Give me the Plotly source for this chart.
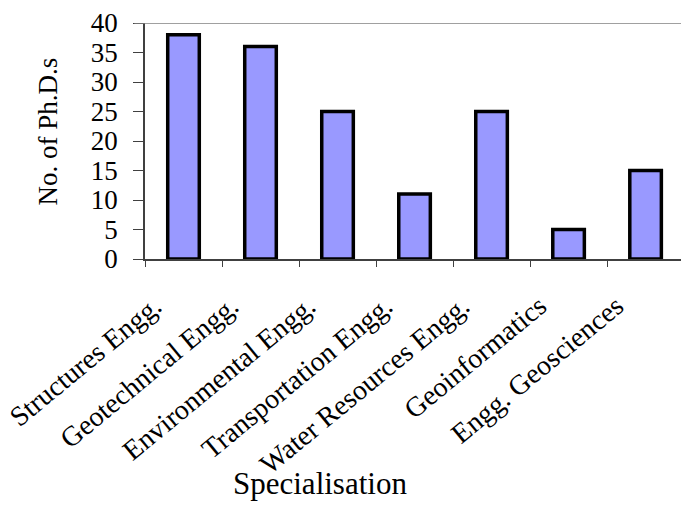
import plotly.graph_objects as go

# Number of Ph.D.s awarded per specialisation
specialisations = [
    "Structures Engg.",
    "Geotechnical Engg.",
    "Environmental Engg.",
    "Transportation Engg.",
    "Water Resources Engg.",
    "Geoinformatics",
    "Engg. Geosciences",
]
phd_counts = [38, 36, 25, 11, 25, 5, 15]
y_ticks = [0, 5, 10, 15, 20, 25, 30, 35, 40]

FONT = "Liberation Serif, Times New Roman, serif"

fig = go.Figure(
    go.Bar(
        x=specialisations,
        y=phd_counts,
        width=0.41,
        marker=dict(color="#9999FF", line=dict(color="#000000", width=3.5)),
    )
)

fig.update_layout(
    width=681,
    height=506,
    margin=dict(l=145, r=0, t=23, b=247),
    paper_bgcolor="white",
    plot_bgcolor="white",
    showlegend=False,
    font=dict(family=FONT, color="black"),
    xaxis=dict(
        range=[-0.5, 6.46],
        tickson="boundaries",
        ticks="outside",
        ticklen=6,
        tickcolor="#404040",
        tickangle=-39.5,
        tickfont=dict(size=28),
        ticklabelshift=-29,
        ticklabelstandoff=18,
        showline=True,
        linecolor="#404040",
        linewidth=1.5,
        showgrid=False,
        zeroline=False,
    ),
    yaxis=dict(
        range=[0, 40],
        tickvals=y_ticks,
        ticks="outside",
        ticklen=10,
        tickcolor="#404040",
        tickfont=dict(size=27),
        ticklabelstandoff=10,
        showline=True,
        linecolor="#404040",
        linewidth=1.5,
        showgrid=False,
        zeroline=False,
    ),
    shapes=[
        dict(type="line", xref="paper", yref="y", x0=-0.02, x1=1, y0=40, y1=40,
             line=dict(color="#808080", width=1.5)),
    ],
    annotations=[
        dict(text="No. of Ph.D.s", xref="paper", yref="paper", x=-0.181, y=0.54,
             textangle=-90, showarrow=False, font=dict(size=27),
             xanchor="center", yanchor="middle"),
        dict(text="Specialisation", xref="paper", yref="paper", x=0.3265, y=-0.953,
             showarrow=False, font=dict(size=31),
             xanchor="center", yanchor="middle"),
    ],
)

fig.write_html("out.html")
